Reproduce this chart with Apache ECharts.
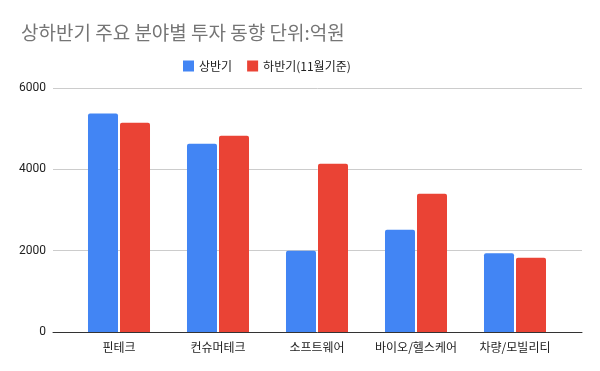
<!DOCTYPE html>
<html><head><meta charset="utf-8">
<script src="https://cdn.jsdelivr.net/npm/echarts@6/dist/echarts.min.js"></script>
<style>html,body{margin:0;padding:0;background:#fff}#c{width:600px;height:371px}</style>
</head><body><div id="c"></div>
<script>
const categories = ['핀테크', '컨슈머테크', '소프트웨어', '바이오/헬스케어', '차량/모빌리티'];
const firstHalf = [5370, 4630, 2000, 2515, 1935];
const secondHalf = [5145, 4825, 4140, 3400, 1825];
const seriesNames = ['상반기', '하반기(11월기준)'];
const yTicks = {min: 0, max: 6000, interval: 2000};

const font = '"Noto Sans CJK KR", Roboto, sans-serif';
const chart = echarts.init(document.getElementById('c'), null, {renderer: 'canvas'});
chart.setOption({
  animation: false,
  textStyle: {fontFamily: font},
  title: {
    text: '상하반기 주요 분야별 투자 동향 단위:억원',
    left: 16, top: 18,
    textStyle: {fontSize: 19, fontWeight: 'normal', color: '#757575', fontFamily: font}
  },
  legend: {
    data: seriesNames,
    left: 178, top: 55,
    itemWidth: 11, itemHeight: 11, itemGap: 15,
    icon: 'rect',
    textStyle: {fontSize: 12, color: '#222', fontFamily: font}
  },
  grid: [
    {left: 53, right: 18, top: 88, bottom: 39},
    {left: 69.5, right: 35.5, top: 88, bottom: 39}
  ],
  xAxis: [
    {gridIndex: 0, type: 'value', min: 0, max: 1, axisLabel: {show: false}, axisTick: {show: false},
     splitLine: {show: false}, axisLine: {show: true, lineStyle: {color: '#333', width: 1}}},
    {gridIndex: 1, type: 'category', data: categories, axisLine: {show: false}, axisTick: {show: false},
     axisLabel: {fontSize: 12, color: '#222', margin: 9, interval: 0, fontFamily: font}}
  ],
  yAxis: [
    {gridIndex: 0, type: 'value', min: yTicks.min, max: yTicks.max, interval: yTicks.interval,
     axisLine: {show: false}, axisTick: {show: false},
     axisLabel: {fontSize: 12, color: '#222', margin: 7, fontFamily: 'Roboto, sans-serif', formatter: v => String(v)},
     splitLine: {lineStyle: {color: '#cccccc', width: 1}}},
    {gridIndex: 1, type: 'value', min: yTicks.min, max: yTicks.max, interval: yTicks.interval,
     show: false, splitLine: {show: false}}
  ],
  series: [
    {name: seriesNames[0], type: 'bar', xAxisIndex: 1, yAxisIndex: 1, data: firstHalf,
     barWidth: 30, barGap: '6.7%', itemStyle: {color: '#4285F4', borderRadius: [2, 2, 0, 0]}},
    {name: seriesNames[1], type: 'bar', xAxisIndex: 1, yAxisIndex: 1, data: secondHalf,
     barWidth: 30, barGap: '6.7%', itemStyle: {color: '#EA4335', borderRadius: [2, 2, 0, 0]}}
  ]
});
</script></body></html>
